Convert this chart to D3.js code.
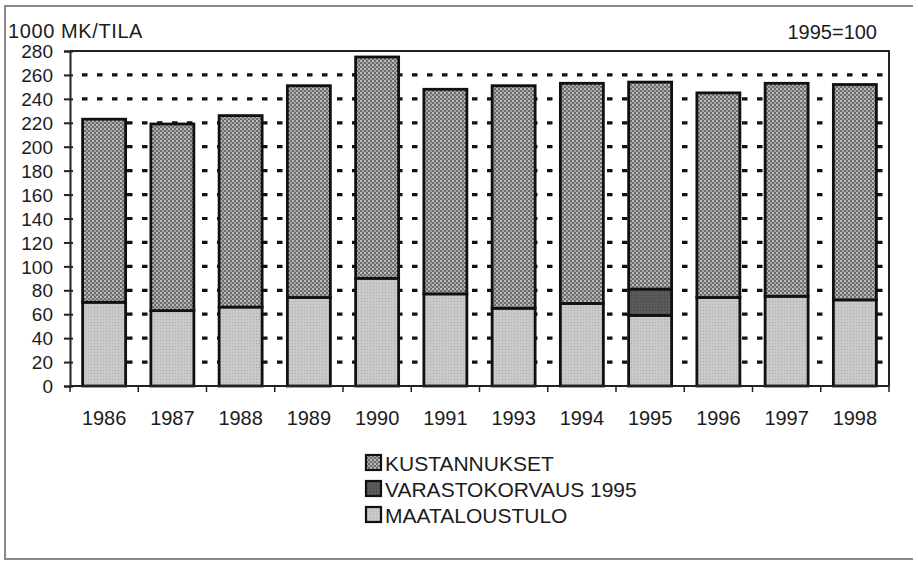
<!DOCTYPE html>
<html>
<head>
<meta charset="utf-8">
<script src="https://cdn.jsdelivr.net/npm/d3@7.9.0/dist/d3.min.js"></script>
<style>
  html, body { margin: 0; padding: 0; background: #fff; }
  svg { display: block; font-family: "Liberation Sans", Arial, Helvetica, sans-serif; }
  text { fill: #1c1c1c; }
</style>
</head>
<body>
<svg id="chart" width="918" height="561"></svg>
<script>
// --- data
const years = ['1986', '1987', '1988', '1989', '1990', '1991', '1993', '1994', '1995', '1996', '1997', '1998'];
const maataloustulo = [70, 63, 66, 74, 90, 77, 65, 69, 59, 74, 75, 72];
const varastokorvaus = [0, 0, 0, 0, 0, 0, 0, 0, 22, 0, 0, 0];
const kustannukset = [153, 156, 160, 177, 185, 171, 186, 184, 173, 171, 178, 180];
const yTicks = d3.range(0, 281, 20);
const seriesNames = ['KUSTANNUKSET', 'VARASTOKORVAUS 1995', 'MAATALOUSTULO'];

const svg = d3.select('#chart');
const plot = { left: 70, right: 889, top: 51, bottom: 386 };

// --- fill patterns (halftone look of the scan)
const defs = svg.append('defs');
const pk = defs.append('pattern').attr('id', 'pat-kust')
  .attr('width', 4).attr('height', 4).attr('patternUnits', 'userSpaceOnUse');
pk.append('rect').attr('width', 4).attr('height', 4).attr('fill', '#6c6c6c');
pk.append('rect').attr('x', 0).attr('y', 0).attr('width', 2).attr('height', 2).attr('fill', '#bdbdbd');
pk.append('rect').attr('x', 2).attr('y', 2).attr('width', 2).attr('height', 2).attr('fill', '#a4a4a4');

const pm = defs.append('pattern').attr('id', 'pat-maat')
  .attr('width', 3).attr('height', 3).attr('patternUnits', 'userSpaceOnUse');
pm.append('rect').attr('width', 3).attr('height', 3).attr('fill', '#c9c9c9');
pm.append('rect').attr('x', 1).attr('y', 1).attr('width', 1).attr('height', 1).attr('fill', '#adadad');

const pv = defs.append('pattern').attr('id', 'pat-var')
  .attr('width', 3).attr('height', 3).attr('patternUnits', 'userSpaceOnUse');
pv.append('rect').attr('width', 3).attr('height', 3).attr('fill', '#5a5a5a');
pv.append('rect').attr('x', 1).attr('y', 1).attr('width', 1).attr('height', 1).attr('fill', '#454545');

const fills = { 'KUSTANNUKSET': 'url(#pat-kust)', 'VARASTOKORVAUS 1995': 'url(#pat-var)', 'MAATALOUSTULO': 'url(#pat-maat)' };

// --- outer page frame (left, top, bottom)
svg.append('path')
  .attr('d', `M913,6 H5 V559 H913`)
  .attr('fill', 'none').attr('stroke', '#8a8a8a').attr('stroke-width', 2);

// --- scales
const x = d3.scaleBand().domain(years).range([plot.left, plot.right]).paddingInner(0.37).paddingOuter(0.185);
const y = d3.scaleLinear().domain([0, 280]).range([plot.bottom, plot.top]);

// gridlines (dashed, behind bars)
svg.append('g').selectAll('line')
  .data(yTicks.filter(t => t > 0 && t < 280))
  .join('line')
  .attr('x1', plot.left + 12).attr('x2', plot.right)
  .attr('y1', d => y(d)).attr('y2', d => y(d))
  .attr('stroke', '#111').attr('stroke-width', 3.2)
  .attr('stroke-dasharray', '5.5,9.5');

// plot frame top + right
svg.append('path')
  .attr('d', `M${plot.left},${y(280)} H${plot.right} V${plot.bottom}`)
  .attr('fill', 'none').attr('stroke', '#222').attr('stroke-width', 2);

// --- stacked bars
const rows = years.map((yr, i) => ({
  year: yr,
  MAATALOUSTULO: maataloustulo[i],
  'VARASTOKORVAUS 1995': varastokorvaus[i],
  KUSTANNUKSET: kustannukset[i]
}));
const stack = d3.stack().keys(['MAATALOUSTULO', 'VARASTOKORVAUS 1995', 'KUSTANNUKSET']);
const layers = stack(rows);

svg.append('g').selectAll('g')
  .data(layers)
  .join('g')
  .attr('fill', d => fills[d.key])
  .selectAll('rect')
  .data(d => d.filter(s => s[1] - s[0] > 0))
  .join('rect')
  .attr('x', d => x(d.data.year))
  .attr('width', x.bandwidth())
  .attr('y', d => y(d[1]))
  .attr('height', d => y(d[0]) - y(d[1]))
  .attr('stroke', '#111').attr('stroke-width', 2.8);

// --- y axis
const yAxis = svg.append('g').attr('transform', `translate(${plot.left},0)`)
  .call(d3.axisLeft(y).tickValues(yTicks).tickSize(6).tickPadding(11));
yAxis.attr('font-family', null).attr('font-size', null);
yAxis.select('.domain').attr('stroke', '#222').attr('stroke-width', 2);
yAxis.selectAll('.tick line').attr('stroke', '#222').attr('stroke-width', 2).attr('x2', 3).attr('x1', -6);
yAxis.selectAll('.tick text').attr('font-size', 19).attr('fill', '#1c1c1c').attr('dy', '0.35em');

// --- x axis: ticks at band boundaries
const bounds = years.map(yr => x(yr) - x.step() * x.paddingInner() / 2).concat([plot.right]);
svg.append('line').attr('x1', plot.left).attr('x2', plot.right)
  .attr('y1', plot.bottom).attr('y2', plot.bottom)
  .attr('stroke', '#222').attr('stroke-width', 2);
svg.append('g').selectAll('line').data(bounds).join('line')
  .attr('x1', d => d).attr('x2', d => d)
  .attr('y1', plot.bottom).attr('y2', plot.bottom + 6)
  .attr('stroke', '#222').attr('stroke-width', 1.5);
svg.append('g').selectAll('text').data(years).join('text')
  .attr('x', d => x(d) + x.bandwidth() / 2)
  .attr('y', 425)
  .attr('text-anchor', 'middle')
  .attr('font-size', 20)
  .text(d => d);

// --- titles
svg.append('text').attr('x', 8).attr('y', 38).attr('font-size', 20).attr('letter-spacing', 0.6).text('1000 MK/TILA');
svg.append('text').attr('x', 877).attr('y', 39).attr('text-anchor', 'end').attr('font-size', 20).text('1995=100');

// --- legend
const legend = svg.append('g').attr('transform', 'translate(366,455)');
const li = legend.selectAll('g').data(seriesNames).join('g')
  .attr('transform', (d, i) => `translate(0,${i * 26})`);
li.append('rect').attr('width', 15).attr('height', 15)
  .attr('fill', d => fills[d]).attr('stroke', '#111').attr('stroke-width', 2.2);
li.append('text').attr('x', 19).attr('y', 15.5).attr('font-size', 21).text(d => d);
</script>
</body>
</html>
